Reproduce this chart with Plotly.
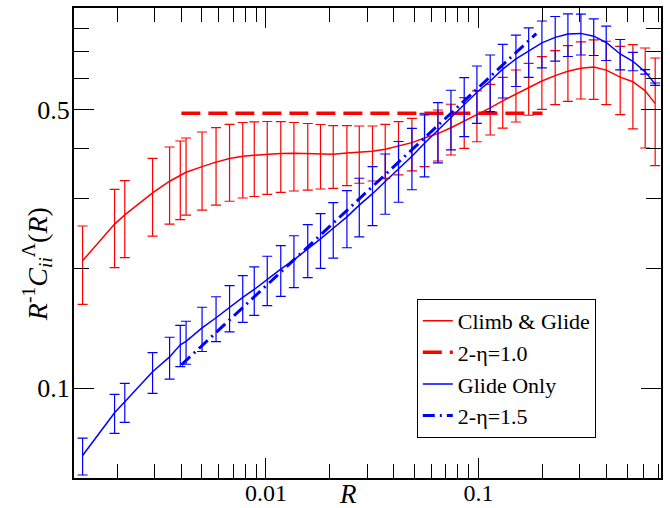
import math
import plotly.graph_objects as go

# ---- data ----
R = [0.001372, 0.001940, 0.002167, 0.002928, 0.003521, 0.003953, 0.004209, 0.005005,
     0.005824, 0.006742, 0.007777, 0.008810, 0.01014, 0.01174, 0.01354, 0.01573,
     0.01806, 0.02073, 0.02404, 0.02748, 0.03172, 0.03640, 0.04204, 0.04861,
     0.05572, 0.06442, 0.07418, 0.08565, 0.09829, 0.1135, 0.1300, 0.1500,
     0.1722, 0.1987, 0.2295, 0.2634, 0.3032, 0.3484, 0.3988, 0.4640, 0.5324,
     0.6083, 0.6779]

climb_glide = [0.2089, 0.2582, 0.2723, 0.3093, 0.3307, 0.3412, 0.3483, 0.3598, 0.3694,
               0.3771, 0.3823, 0.3845, 0.3869, 0.3884, 0.3885, 0.3879, 0.3876, 0.3867,
               0.3891, 0.3910, 0.3931, 0.3980, 0.4048, 0.4134, 0.4247, 0.4354, 0.4504,
               0.4679, 0.4863, 0.5055, 0.5261, 0.5473, 0.5689, 0.5901, 0.6089, 0.6243,
               0.6356, 0.6395, 0.6285, 0.6035, 0.5876, 0.5574, 0.5179]
climb_glide_err = [0.0465, 0.0575, 0.0596, 0.0683, 0.0724, 0.0761, 0.0763, 0.0798, 0.0812,
                   0.0825, 0.0821, 0.0817, 0.0802, 0.0781, 0.0759, 0.0738, 0.0714, 0.0692,
                   0.0668, 0.0641, 0.0619, 0.0616, 0.0618, 0.0624, 0.0650, 0.0637, 0.0655,
                   0.0679, 0.0708, 0.0735, 0.0768, 0.0816, 0.0847, 0.0890, 0.0942, 0.0994,
                   0.1038, 0.1085, 0.1139, 0.1177, 0.1403, 0.1567, 0.1561]

glide_only = [0.0678, 0.0868, 0.0925, 0.1100, 0.1199, 0.1286, 0.1311, 0.1417, 0.1503,
              0.1597, 0.1691, 0.1770, 0.1878, 0.1990, 0.2101, 0.2234, 0.2371, 0.2521,
              0.2692, 0.2881, 0.3078, 0.3302, 0.3545, 0.3820, 0.4120, 0.4441, 0.4778,
              0.5147, 0.5529, 0.5900, 0.6319, 0.6703, 0.7023, 0.7355, 0.7592, 0.7746,
              0.7770, 0.7645, 0.7372, 0.6898, 0.6614, 0.6222, 0.5795]
glide_only_err = [0.0072, 0.0097, 0.0104, 0.0129, 0.0144, 0.0152, 0.0162, 0.0180, 0.0194,
                  0.0212, 0.0227, 0.0246, 0.0266, 0.0289, 0.0313, 0.0339, 0.0371, 0.0401,
                  0.0440, 0.0484, 0.0520, 0.0569, 0.0616, 0.0671, 0.0730, 0.0765, 0.0816,
                  0.0869, 0.0907, 0.0958, 0.0969, 0.0986, 0.0994, 0.0992, 0.0975, 0.0947,
                  0.0913, 0.0807, 0.0728, 0.0603, 0.0352, 0.0078, 0.0038]

fit10_x = [0.004, 0.2]
fit10_y = [0.49, 0.49]
fit15_x = [0.004, 0.187]
fit15_y = [0.1145, 0.776]

x_ticks = [0.01, 0.1]
x_ticktext = ["0.01", "0.1"]
x_minor = [0.002, 0.003, 0.004, 0.005, 0.006, 0.007, 0.008, 0.009,
           0.02, 0.03, 0.04, 0.05, 0.06, 0.07, 0.08, 0.09,
           0.2, 0.3, 0.4, 0.5, 0.6, 0.7]
y_ticks = [0.1, 0.5]
y_ticktext = ["0.1", "0.5"]
y_minor = [0.2, 0.3, 0.4, 0.6, 0.7, 0.8]

x_range = [0.00125, 0.722]
y_range = [0.05956, 0.8997]

FONT = "Liberation Serif, Times New Roman, Times, DejaVu Serif, serif"
RED = "#ff0000"
BLUE = "#0000ff"

fig = go.Figure()
fig.add_trace(go.Scatter(
    x=R, y=climb_glide, mode="lines", name="Climb & Glide",
    line=dict(color=RED, width=1.5),
    error_y=dict(type="data", array=climb_glide_err, color=RED, thickness=1.2, width=5)))
fig.add_trace(go.Scatter(
    x=fit10_x, y=fit10_y, mode="lines", name="2-η=1.0",
    line=dict(color=RED, width=3.5, dash="19px,8px")))
fig.add_trace(go.Scatter(
    x=R, y=glide_only, mode="lines", name="Glide Only",
    line=dict(color=BLUE, width=1.5),
    error_y=dict(type="data", array=glide_only_err, color=BLUE, thickness=1.2, width=5)))
fig.add_trace(go.Scatter(
    x=fit15_x, y=fit15_y, mode="lines", name="2-η=1.5",
    line=dict(color=BLUE, width=3, dash="12px,5px,2px,5px")))

axis_common = dict(
    type="log", showgrid=False, zeroline=False, automargin=False,
    showline=True, linecolor="black", linewidth=2, mirror="ticks",
    ticks="inside", ticklen=20, tickwidth=1.3, tickcolor="black",
)

fig.update_layout(
    width=670, height=508,
    margin=dict(l=74, r=9, t=8, b=30, autoexpand=False),
    paper_bgcolor="white", plot_bgcolor="white",
    font=dict(family=FONT, color="black"),
    xaxis=dict(axis_common,
               range=[math.log10(x_range[0]), math.log10(x_range[1])],
               tickmode="array", tickvals=x_ticks, ticktext=x_ticktext,
               tickfont=dict(family=FONT, size=24, color="black"),
               ticklabelstandoff=-8,
               minor=dict(tickmode="array", tickvals=x_minor, ticks="inside",
                          ticklen=14, tickwidth=1.3, tickcolor="black")),
    yaxis=dict(axis_common,
               range=[math.log10(y_range[0]), math.log10(y_range[1])],
               tickmode="array", tickvals=y_ticks, ticktext=y_ticktext,
               tickfont=dict(family=FONT, size=26, color="black"),
               ticklabelstandoff=-3,
               minor=dict(tickmode="array", tickvals=y_minor, ticks="inside",
                          ticklen=15, tickwidth=1.3, tickcolor="black")),
    showlegend=True,
    legend=dict(x=0.584, y=0.381, xanchor="left", yanchor="top",
                bgcolor="white", bordercolor="black", borderwidth=1,
                font=dict(family=FONT, size=22, color="black"),
                tracegroupgap=0, itemwidth=30),
    annotations=[
        dict(text="<i>R</i>", xref="paper", yref="paper", x=0.467, y=-0.034,
             showarrow=False, font=dict(family=FONT, size=27, color="black"),
             xanchor="center", yanchor="middle"),
        dict(text="<i>R</i><sup>-1</sup><i>C</i><sub><i>ii</i></sub><sup>Λ</sup>(<i>R</i>)",
             xref="paper", yref="paper", x=-0.063, y=0.455, textangle=-90,
             showarrow=False, font=dict(family=FONT, size=28, color="black"),
             xanchor="center", yanchor="middle"),
    ],
)

fig.write_html("out.html")
